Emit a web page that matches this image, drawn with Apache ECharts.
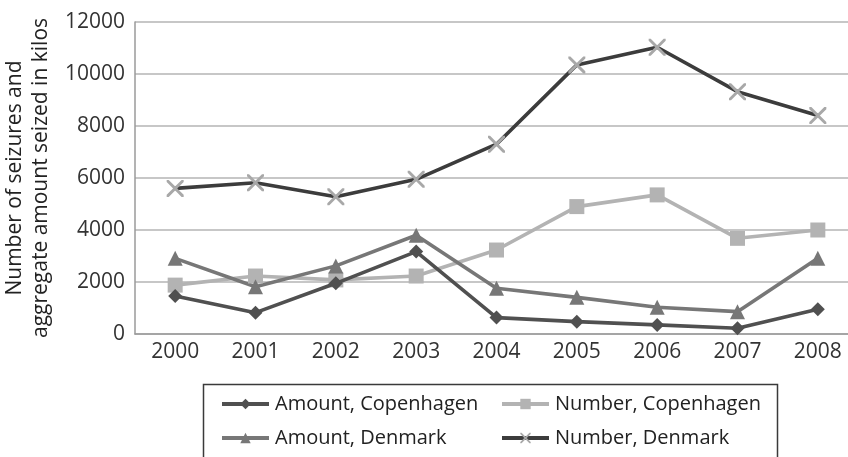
<!DOCTYPE html>
<html>
<head>
<meta charset="utf-8">
<script src="https://cdn.jsdelivr.net/npm/echarts@6/dist/echarts.min.js"></script>
<style>
  html, body { margin: 0; padding: 0; background: #ffffff; }
  #chart { width: 848px; height: 457px; }
</style>
</head>
<body>
<div id="chart"></div>
<script>
// Seizure statistics, 2000-2008
const years = ['2000', '2001', '2002', '2003', '2004', '2005', '2006', '2007', '2008'];
const amountCopenhagen = [1460, 820, 1950, 3170, 630, 475, 350, 220, 950];
const numberCopenhagen = [1880, 2230, 2080, 2230, 3230, 4900, 5350, 3680, 4000];
const amountDenmark = [2910, 1820, 2620, 3800, 1760, 1410, 1030, 860, 2910];
const numberDenmark = [5600, 5820, 5280, 5950, 7300, 10350, 11030, 9320, 8400];
const yTicks = { min: 0, max: 12000, interval: 2000 };

const FONT = '"Open Sans", "Liberation Sans", sans-serif';
const TEXT_COLOR = '#333333';

// thin diagonal cross used as the marker for the Denmark count
const crossPath = 'path://M0,0 L1.2,0 L10,8.8 L10,10 L8.8,10 L0,1.2 Z M8.8,0 L10,0 L10,1.2 L1.2,10 L0,10 L0,8.8 Z';

function lineSeries(name, data, lineColor, symbol, symbolColor, symbolSize, z) {
  return {
    name: name,
    type: 'line',
    data: data,
    symbol: symbol,
    symbolSize: symbolSize,
    showAllSymbol: true,
    z: z,
    lineStyle: { color: lineColor, width: 3.6 },
    itemStyle: { color: symbolColor },
    emphasis: { disabled: true },
    animation: false
  };
}

const chart = echarts.init(document.getElementById('chart'), null, { renderer: 'canvas' });

const legendText = { fontFamily: FONT, fontSize: 20, color: '#222', padding: [0, 0, 0, 1] };
const legendCommon = {
  orient: 'vertical',
  top: 389,
  itemWidth: 47,
  itemHeight: 13,
  itemGap: 14,
  textStyle: legendText,
  lineStyle: { width: 4 },
  selectedMode: false
};

chart.setOption({
  backgroundColor: '#ffffff',
  animation: false,
  // the plot runs slightly past the right edge of the canvas, so no fitting to bounds
  grid: { left: 135, top: 22, width: 723, bottom: 123, containLabel: false, outerBoundsMode: 'none' },
  xAxis: {
    type: 'category',
    data: years,
    boundaryGap: true,
    axisLine: { show: true, lineStyle: { color: '#9a9a9a', width: 1.5 } },
    axisTick: { show: false },
    axisLabel: { fontFamily: FONT, fontSize: 21, color: TEXT_COLOR, margin: 8 },
    splitLine: { show: false }
  },
  yAxis: {
    type: 'value',
    min: yTicks.min,
    max: yTicks.max,
    interval: yTicks.interval,
    name: 'Number of seizures and\naggregate amount seized in kilos',
    nameLocation: 'middle',
    nameRotate: 90,
    nameGap: 73,
    nameTextStyle: { fontFamily: FONT, fontSize: 21, color: '#222', lineHeight: 26 },
    axisLine: { show: true, lineStyle: { color: '#9a9a9a', width: 1.5 } },
    axisTick: { show: false },
    axisLabel: {
      fontFamily: FONT, fontSize: 21, color: TEXT_COLOR, margin: 10,
      formatter: function (v) { return String(v); }
    },
    splitLine: { show: true, lineStyle: { color: '#b4b4b4', width: 1.5 } }
  },
  legend: [
    Object.assign({ left: 215, data: ['Amount, Copenhagen', 'Amount, Denmark'] }, legendCommon),
    Object.assign({ left: 495, data: ['Number, Copenhagen', 'Number, Denmark'] }, legendCommon)
  ],
  graphic: [
    {
      type: 'rect',
      left: 201,
      top: 382,
      shape: { width: 574, height: 90 },
      style: { fill: 'none', stroke: '#3a3a3a', lineWidth: 1.5 },
      silent: true,
      z: -1
    }
  ],
  series: [
    lineSeries('Amount, Copenhagen', amountCopenhagen, '#505050', 'diamond', '#505050', 14, 3),
    lineSeries('Number, Copenhagen', numberCopenhagen, '#b3b3b3', 'rect', '#b3b3b3', 15, 2),
    lineSeries('Amount, Denmark', amountDenmark, '#777777', 'triangle', '#777777', 15, 2),
    lineSeries('Number, Denmark', numberDenmark, '#3c3c3c', crossPath, '#a8a8a8', 17, 4)
  ]
});
</script>
</body>
</html>
